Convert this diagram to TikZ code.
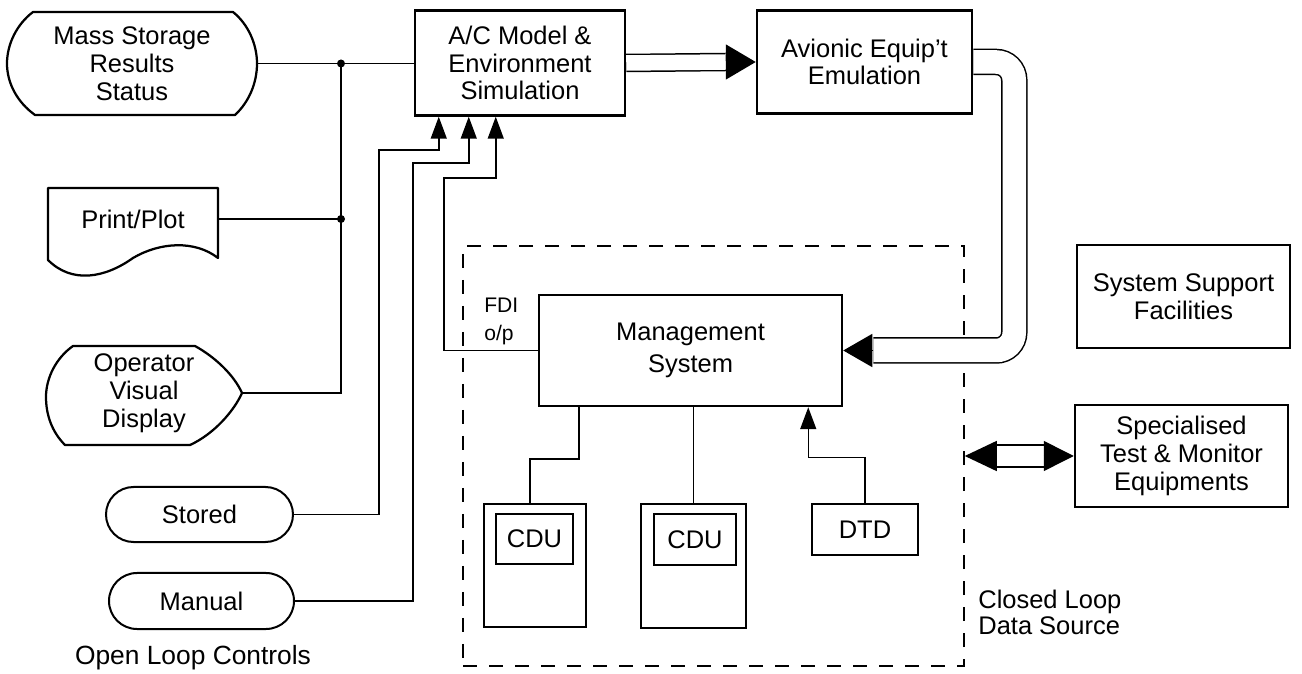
\documentclass[tikz,border=0pt]{standalone}
\usepackage{fontspec}
\setmainfont{Liberation Sans}
\usetikzlibrary{positioning, shapes.misc, arrows.meta, calc}

\begin{document}
\begin{tikzpicture}[x=0.2mm, y=-0.2mm]

\useasboundingbox (0,0) rectangle (1302,674);

\tikzstyle{pbox}=[draw=black, line width=0.5mm, shape=rectangle, inner sep=0pt,
align=center, font=\fontsize{14.5}{15.8}\selectfont];
\tikzstyle{ibox}=[pbox, line width=0.3mm];
\tikzstyle{lbl}=[inner sep=0pt, align=center, font=\fontsize{14.5}{15.8}\selectfont];
\tikzstyle{outline}=[draw=black, line width=0.45mm, line join=round];
\tikzstyle{conn}=[draw=black, line width=0.3mm];
\tikzstyle{arr}=[conn, -{Triangle[length=4.4mm, width=3.2mm]}];
\tikzstyle{dbl}=[conn, double, double distance=3.1mm];
\tikzstyle{dbox}=[draw=black, line width=0.3mm, dash pattern=on 2.8mm off 2.4mm, inner sep=0pt];

% left column
\node[lbl, minimum width=50mm, minimum height=20.6mm] (ms) at (132,63.5) {Mass Storage\\Results\\Status};
\draw[outline] (33,12) -- (233,12) .. controls (248,24) and (257,44) .. (257,63.5)
  .. controls (257,83) and (249,102) .. (235,115) -- (35,115)
  .. controls (17,102) and (7,83) .. (7,63.5) .. controls (7,44) and (17,24) .. cycle;

\node[lbl, minimum width=34mm, minimum height=12.4mm] (pp) at (133,219) {Print/Plot};
\draw[outline] (48,260) -- (48,188) -- (218,188) -- (218,258)
  .. controls (195,240) and (160,242) .. (133,258) .. controls (105,278) and (72,284) .. cycle;

\node[lbl, minimum width=39.2mm, minimum height=19.8mm] (ovd) at (144,393) {Operator\\Visual\\Display};
\draw[outline] (73,346) -- (195,346) .. controls (215,357) and (234,375) .. (242,393)
  .. controls (234,411) and (214,434) .. (190,445) -- (65,445)
  .. controls (52,432) and (46,415) .. (46,397) .. controls (46,378) and (56,358) .. cycle;

\node[pbox, rounded rectangle, line width=0.4mm, minimum width=37.4mm, minimum height=11mm] (st) at (199.5,514.5) {Stored};
\node[pbox, rounded rectangle, line width=0.4mm, minimum width=37mm, minimum height=11.2mm] (mn) at (201.5,601) {Manual};
\node[lbl, font=\fontsize{15}{16}\selectfont] (olc) at (193,658) {Open Loop Controls};

% top row
\node[pbox, minimum width=42mm, minimum height=21mm] (ac) at (520,63) {A/C Model \&\\Environment\\Simulation};
\node[pbox, minimum width=43mm, minimum height=20.6mm] (av) at (864.5,62) {Avionic Equip’t\\Emulation};

% closed loop
\node[dbox, minimum width=100.2mm, minimum height=84mm] (cl) at (713.5,456) {};
\node[lbl, align=left, anchor=west, font=\fontsize{14.5}{14.8}\selectfont] (cld) at (978,612) {Closed Loop\\Data Source};

\node[pbox, minimum width=60.6mm, minimum height=22.2mm, font=\fontsize{14.5}{18}\selectfont] (mg) at (690.5,350.5) {Management\\System};
\node[lbl, align=left, anchor=west, font=\fontsize{12}{16}\selectfont] (fdi) at (484,321) {FDI\\o/p};

\node[pbox, minimum width=20.4mm, minimum height=24.6mm] (cdu1) at (535,565.5) {};
\node[ibox, minimum width=15.4mm, minimum height=10mm] (cdu1t) at (534.5,539) {CDU};
\node[pbox, minimum width=21mm, minimum height=24.8mm] (cdu2) at (693.5,566) {};
\node[ibox, minimum width=16.4mm, minimum height=10.2mm] (cdu2t) at (695,539.5) {CDU};
\node[pbox, minimum width=21.2mm, minimum height=10.2mm] (dtd) at (865,529.5) {DTD};

% right column
\node[pbox, minimum width=42.6mm, minimum height=20.6mm] (ss) at (1183.5,296.5) {System Support\\Facilities};
\node[pbox, minimum width=42.6mm, minimum height=20.4mm] (sp) at (1181.5,456) {Specialised\\Test \& Monitor\\Equipments};

% lines
\coordinate (j1) at (341,63.5);
\draw[conn] (ms.east) -- (ms.east -| ac.west);
\draw[conn] (pp.east) -- (pp.east -| j1);
\draw[conn] (ovd.east) -| (j1);
\fill (j1) circle (0.8mm);
\fill (pp.east -| j1) circle (0.8mm);

\draw[arr] (st.east) -| (379,150) -| ($(ac.south west)+(25,0)$);
\draw[arr] (mn.east) -| (413,163) -| ($(ac.south west)+(55,0)$);
\draw[arr] (mg.west) -| (444,178) -| ($(ac.south west)+(82,0)$);

\draw[dbl] (ac.east) -- ($(av.west)+(-30,0)$);
\draw[conn, -{Triangle[length=6mm, width=7mm]}] ($(av.west)+(-30,0)$) -- (av.west);

\draw[dbl, double distance=4.7mm, rounded corners=3.6mm] (av.east) -- ++(41,0) |- ($(mg.east)+(30,0)$);
\draw[conn, -{Triangle[length=5.8mm, width=6.6mm]}] ($(mg.east)+(30,0)$) -- (mg.east);

\draw[conn] ($(mg.south west)+(41,0)$) -- ++(0,52) -| ($(cdu1.north west)+(47,0)$);
\draw[conn] (cdu2.north |- mg.south) -- (cdu2.north);
\draw[arr] (dtd.north) -- ++(0,-45) -| ($(mg.south east)+(-35,0)$);

\draw[dbl, double distance=4.1mm] ($(cl.east)+(32,0)$) -- ($(sp.west)+(-30,0)$);
\draw[conn, -{Triangle[length=6.4mm, width=6mm]}] ($(cl.east)+(32,0)$) -- (cl.east);
\draw[conn, -{Triangle[length=6mm, width=6mm]}] ($(sp.west)+(-30,0)$) -- (sp.west);

\end{tikzpicture}
\end{document}
